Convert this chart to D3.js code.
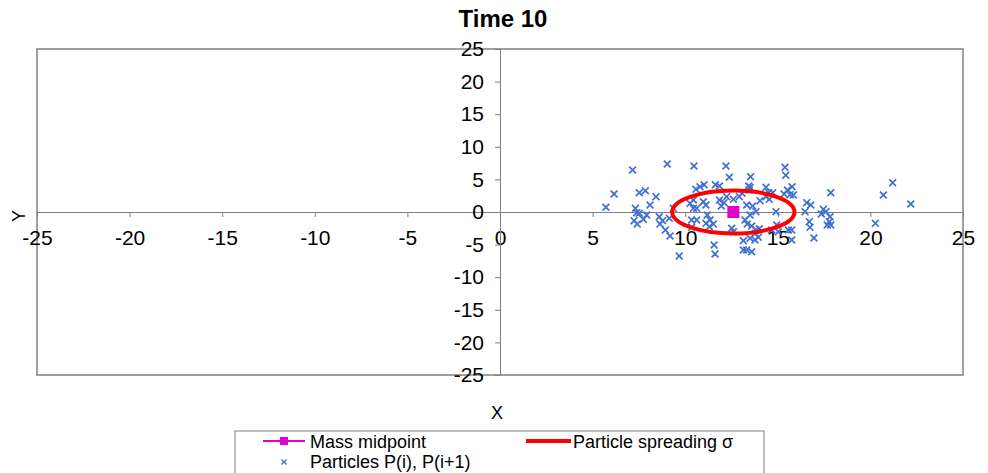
<!DOCTYPE html>
<html>
<head>
<meta charset="utf-8">
<script src="https://cdn.jsdelivr.net/npm/d3@7"></script>
<style>
  body { margin: 0; background: #fff; }
  svg text { font-family: "Liberation Sans", Arial, sans-serif; }
</style>
</head>
<body>
<svg id="chart" width="988" height="473"></svg>
<script>
/* Particle positions at time 10 */
var particleX = [7.16, 9.03, 10.47, 6.16, 5.72, 7.52, 7.85, 8.42, 8.1, 7.31, 7.38, 7.52, 7.24, 7.41, 7.74, 7.92,
  8.6, 8.78, 8.64, 9.14, 8.93, 9.18, 9.36, 9.68, 10.26, 10.58, 10.62, 10.35,
  12.2, 12.38, 13.53, 13.5, 15.39, 15.43, 11.02, 10.8, 11.63, 11.85, 13.43, 13.46, 14.36, 14.51, 14.72,
  15.52, 15.66, 15.34, 10.44, 10.44, 10.98, 11.12, 11.85, 11.95, 12.1, 12.24, 12.6, 12.92, 13.07,
  13.32, 13.64, 13.82, 13.5, 14.04, 14.36, 14.54, 14.9, 11.19, 11.34, 11.52, 11.3, 11.12, 10.62,
  12.51, 12.6, 13.23, 13.35, 13.59, 13.82, 14.0, 13.79, 13.95, 13.77, 13.5, 13.14, 13.32, 13.59, 13.14,
  11.56, 11.61, 14.94, 15.03, 14.67, 15.57, 10.35,
  15.77, 15.84, 17.86, 16.56, 16.78, 16.47, 16.7, 16.74, 16.95, 17.46, 17.6, 17.35, 17.82, 17.78,
  17.67, 17.86, 15.75, 15.75, 20.7, 21.2, 20.27, 22.18];
var particleY = [6.44, 7.36, 7.05, 2.76, 0.72, 2.96, 3.27, 2.35, 1.07, 0.56, -0.1, -0.2, -1.33, -1.84, -1.12, -0.46,
  -0.72, -1.33, -1.84, -0.97, -2.76, -3.68, 0.56, -6.75, 1.33, 3.48, 0.56, -1.23,
  7.05, 5.32, 5.41, 3.79, 6.85, 5.63, 4.19, 3.88, 4.19, 3.99, 3.99, 3.37, 3.79, 2.96, 2.96,
  3.37, 2.66, 2.76, 1.84, 0.56, 1.58, 1.07, 1.84, 0.92, 1.43, 2.35, 1.94, 2.35, 2.87,
  1.07, 0.92, 0.05, -0.46, 1.74, 2.35, 1.94, 0.05, -0.46, -1.23, -1.84, -2.25, -1.74, -1.23,
  -2.5, -3.02, -1.23, -1.84, -2.15, -2.76, -2.56, -3.27, -3.88, -4.29, -4.03, -4.4, -5.83, -6.09, -5.83,
  -5.06, -6.44, -1.99, -3.02, -2.76, -2.76, -2.35,
  3.88, 2.61, 2.96, 1.43, 1.07, 0.05, -1.48, -2.35, -3.99, 0.41, 0.05, -0.31, -0.72, -1.48,
  -1.99, -1.99, -2.76, -4.29, 2.61, 4.49, -1.74, 1.23];

/* Mass midpoint and spreading radius */
var midpoint = [12.6, 0];
var sigma = 3.3;

/* Axis ticks */
var xTicks = [-25, -20, -15, -10, -5, 0, 5, 10, 15, 20, 25];
var yTicks = [-25, -20, -15, -10, -5, 0, 5, 10, 15, 20, 25];

var svg = d3.select("#chart");

var plotLeft = 37, plotRight = 963, plotTop = 49, plotBottom = 375;

var x = d3.scaleLinear().domain([-25, 25]).range([plotLeft, plotRight]);
var y = d3.scaleLinear().domain([-25, 25]).range([plotBottom, plotTop]);

/* Plain hyphen minus like the original */
function tickLabel(d) { return String(d); }

// Plot area border
svg.append("rect")
  .attr("x", plotLeft)
  .attr("y", plotTop)
  .attr("width", plotRight - plotLeft)
  .attr("height", plotBottom - plotTop)
  .attr("fill", "none")
  .attr("stroke", "#808080")
  .attr("stroke-width", 1.5);

// X axis through y = 0
var xAxis = svg.append("g")
  .attr("transform", "translate(0," + y(0) + ")")
  .call(d3.axisBottom(x).tickValues(xTicks).tickSize(5).tickFormat(tickLabel));

// Y axis through x = 0
var yAxis = svg.append("g")
  .attr("transform", "translate(" + x(0) + ",0)")
  .call(d3.axisLeft(y).tickValues(yTicks).tickSize(5).tickFormat(tickLabel));

[xAxis, yAxis].forEach(function(g) {
  g.select(".domain").attr("stroke", "#808080");
  g.selectAll(".tick line").attr("stroke", "#808080");
  g.selectAll(".tick text")
    .attr("fill", "#000")
    .style("font-size", "21px");
});
xAxis.selectAll(".tick text").attr("dy", "1.2em");
yAxis.selectAll(".tick text").attr("x", -16);

// Title and axis titles
svg.append("text")
  .attr("x", 503)
  .attr("y", 27)
  .attr("text-anchor", "middle")
  .style("font-size", "24px")
  .style("font-weight", "bold")
  .text("Time 10");

svg.append("text")
  .attr("transform", "translate(25,216) rotate(-90)")
  .attr("text-anchor", "middle")
  .style("font-size", "18px")
  .text("Y");

svg.append("text")
  .attr("x", 497)
  .attr("y", 419)
  .attr("text-anchor", "middle")
  .style("font-size", "18px")
  .text("X");

// Particles as x markers
var cross = d3.symbol().type(d3.symbolX).size(32);
var particles = d3.zip(particleX, particleY);

svg.append("g")
  .selectAll("path")
  .data(particles)
  .join("path")
  .attr("d", cross)
  .attr("transform", function(d) { return "translate(" + x(d[0]) + "," + y(d[1]) + ")"; })
  .attr("fill", "none")
  .attr("stroke", "#3f6fd1")
  .attr("stroke-width", 1.7);

// Spreading sigma circle (ellipse on screen)
svg.append("ellipse")
  .attr("cx", x(midpoint[0]))
  .attr("cy", y(midpoint[1]))
  .attr("rx", x(midpoint[0] + sigma) - x(midpoint[0]))
  .attr("ry", y(midpoint[1]) - y(midpoint[1] + sigma))
  .attr("fill", "none")
  .attr("stroke", "#ff0000")
  .attr("stroke-width", 4);

// Mass midpoint
svg.append("rect")
  .attr("x", x(midpoint[0]) - 6)
  .attr("y", y(midpoint[1]) - 6)
  .attr("width", 12)
  .attr("height", 12)
  .attr("fill", "#e000d0");

// Legend
var legend = svg.append("g");

legend.append("rect")
  .attr("x", 235)
  .attr("y", 431)
  .attr("width", 529)
  .attr("height", 45)
  .attr("fill", "#fff")
  .attr("stroke", "#808080")
  .attr("stroke-width", 1);

legend.append("line")
  .attr("x1", 263).attr("x2", 305)
  .attr("y1", 441).attr("y2", 441)
  .attr("stroke", "#e000d0")
  .attr("stroke-width", 2);
legend.append("rect")
  .attr("x", 280).attr("y", 437)
  .attr("width", 8).attr("height", 8)
  .attr("fill", "#e000d0");
legend.append("text")
  .attr("x", 310).attr("y", 448)
  .style("font-size", "18px")
  .text("Mass midpoint");

legend.append("line")
  .attr("x1", 526).attr("x2", 571)
  .attr("y1", 441).attr("y2", 441)
  .attr("stroke", "#ff0000")
  .attr("stroke-width", 4);
legend.append("text")
  .attr("x", 573).attr("y", 448)
  .style("font-size", "18px")
  .text("Particle spreading σ");

legend.append("path")
  .attr("d", d3.symbol().type(d3.symbolX).size(18))
  .attr("transform", "translate(284,462)")
  .attr("fill", "none")
  .attr("stroke", "#3f6fd1")
  .attr("stroke-width", 1.3);
legend.append("text")
  .attr("x", 310).attr("y", 468)
  .style("font-size", "18px")
  .text("Particles P(i), P(i+1)");
</script>
</body>
</html>
